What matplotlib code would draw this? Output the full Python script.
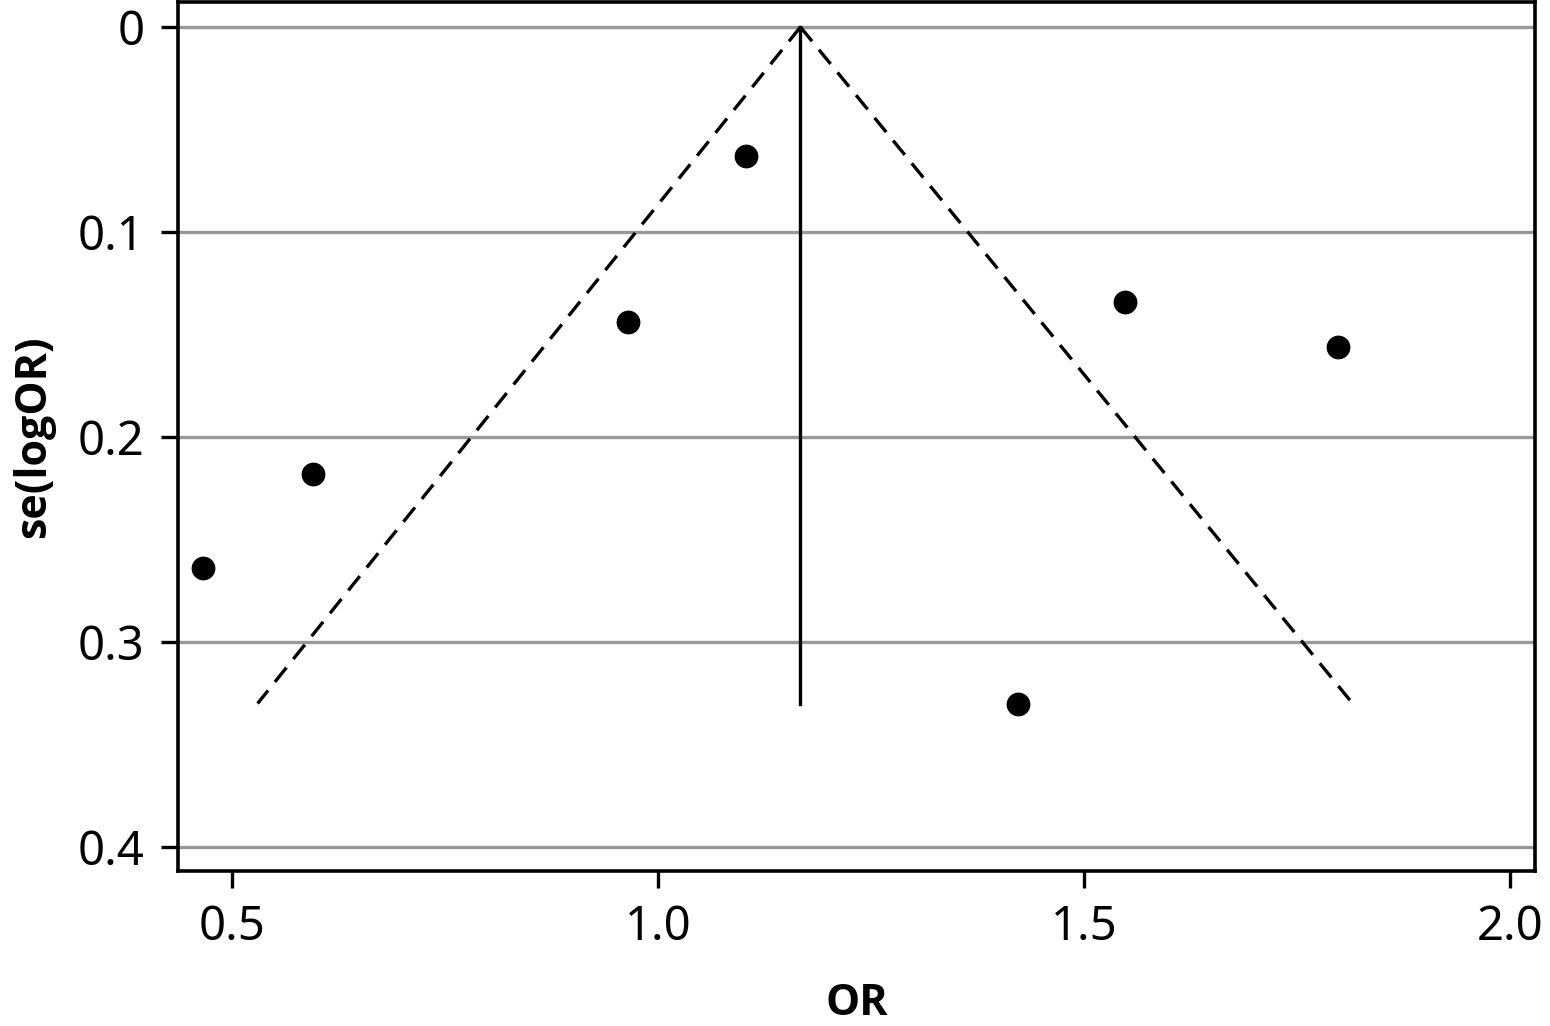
import matplotlib

matplotlib.use("Agg")
import matplotlib.pyplot as plt

plt.rcParams["font.family"] = ["Noto Sans", "DejaVu Sans"]

# study estimates
odds_ratio = [0.466, 0.595, 0.965, 1.103, 1.422, 1.548, 1.798]
se_log_or = [0.264, 0.218, 0.144, 0.063, 0.330, 0.134, 0.156]

# pooled estimate and pseudo 95% limits
pooled_or = 1.167
funnel_se = [0.0, 0.330]
left_limit = [1.167, 0.530]
right_limit = [1.167, 1.815]

x_ticks = [0.5, 1.0, 1.5, 2.0]
x_tick_labels = ["0.5", "1.0", "1.5", "2.0"]
y_ticks = [0, 0.1, 0.2, 0.3, 0.4]
y_tick_labels = ["0", "0.1", "0.2", "0.3", "0.4"]

fig = plt.figure(figsize=(15.5, 10.26), dpi=100)
ax = fig.add_axes([178 / 1550, 155 / 1026, (1535 - 178) / 1550, (1024 - 155) / 1026])

for y in y_ticks:
    ax.axhline(y, color="#999999", linewidth=2.4, zorder=0)

ax.plot([pooled_or, pooled_or], funnel_se, color="black", linewidth=2.4)
ax.plot(left_limit, funnel_se, color="black", linewidth=2.4, linestyle=(0, (5.5, 3.3)))
ax.plot(right_limit, funnel_se, color="black", linewidth=2.4, linestyle=(0, (5.5, 3.3)))
ax.scatter(odds_ratio, se_log_or, s=260, color="black", zorder=3)

ax.set_xlim(0.4366, 2.029)
ax.set_ylim(0.4117, -0.0122)
ax.set_xticks(x_ticks)
ax.set_xticklabels(x_tick_labels)
ax.set_yticks(y_ticks)
ax.set_yticklabels(y_tick_labels)
ax.tick_params(labelsize=34, length=12, width=2.4, pad=12)

for spine in ax.spines.values():
    spine.set_linewidth(2.6)

label_font = dict(fontsize=31, fontweight="bold", family=["Open Sans", "DejaVu Sans"])
ax.set_xlabel("OR", labelpad=22, **label_font)
ax.set_ylabel("se(logOR)", labelpad=16, **label_font)

fig.savefig("out.png", dpi=100)
